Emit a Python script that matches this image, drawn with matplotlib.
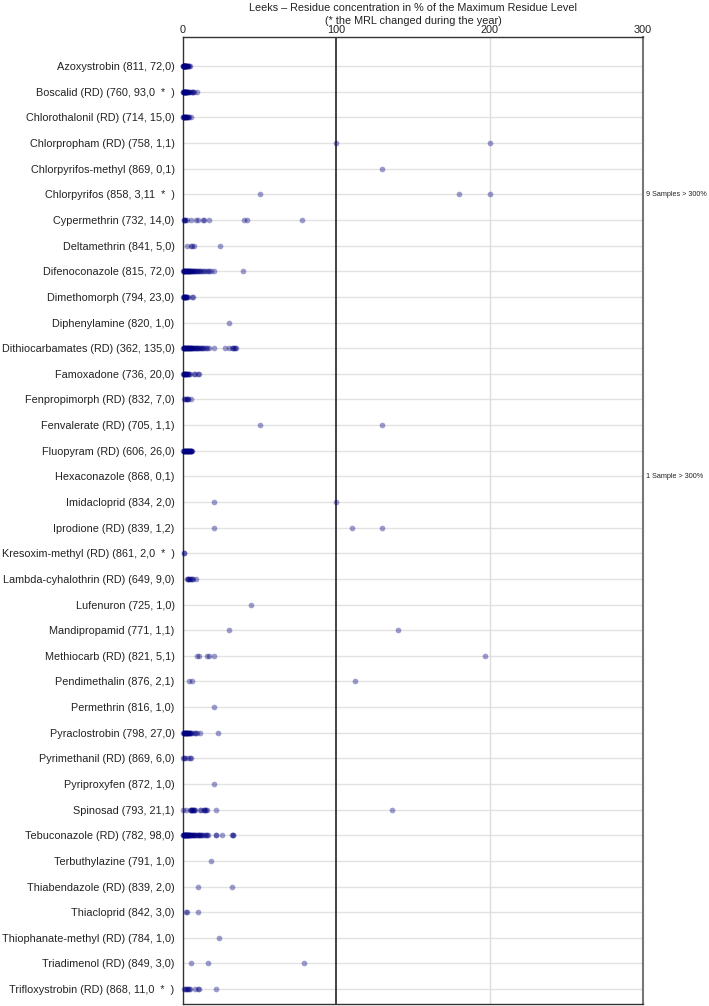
import matplotlib
matplotlib.use("Agg")
import matplotlib.pyplot as plt
import matplotlib.transforms as mtransforms

plt.rcParams['font.family'] = ['Liberation Sans', 'DejaVu Sans']

labels = [
    "Azoxystrobin (811, 72,0)",
    "Boscalid (RD) (760, 93,0  *  )",
    "Chlorothalonil (RD) (714, 15,0)",
    "Chlorpropham (RD) (758, 1,1)",
    "Chlorpyrifos-methyl (869, 0,1)",
    "Chlorpyrifos (858, 3,11  *  )",
    "Cypermethrin (732, 14,0)",
    "Deltamethrin (841, 5,0)",
    "Difenoconazole (815, 72,0)",
    "Dimethomorph (794, 23,0)",
    "Diphenylamine (820, 1,0)",
    "Dithiocarbamates (RD) (362, 135,0)",
    "Famoxadone (736, 20,0)",
    "Fenpropimorph (RD) (832, 7,0)",
    "Fenvalerate (RD) (705, 1,1)",
    "Fluopyram (RD) (606, 26,0)",
    "Hexaconazole (868, 0,1)",
    "Imidacloprid (834, 2,0)",
    "Iprodione (RD) (839, 1,2)",
    "Kresoxim-methyl (RD) (861, 2,0  *  )",
    "Lambda-cyhalothrin (RD) (649, 9,0)",
    "Lufenuron (725, 1,0)",
    "Mandipropamid (771, 1,1)",
    "Methiocarb (RD) (821, 5,1)",
    "Pendimethalin (876, 2,1)",
    "Permethrin (816, 1,0)",
    "Pyraclostrobin (798, 27,0)",
    "Pyrimethanil (RD) (869, 6,0)",
    "Pyriproxyfen (872, 1,0)",
    "Spinosad (793, 21,1)",
    "Tebuconazole (RD) (782, 98,0)",
    "Terbuthylazine (791, 1,0)",
    "Thiabendazole (RD) (839, 2,0)",
    "Thiacloprid (842, 3,0)",
    "Thiophanate-methyl (RD) (784, 1,0)",
    "Triadimenol (RD) (849, 3,0)",
    "Trifloxystrobin (RD) (868, 11,0  *  )",
]

# residue values in % of MRL
azoxystrobin = [0.1, 0.3, 0.4, 0.6, 0.7, 0.9, 1.0, 1.2, 1.3, 1.5, 1.6, 1.8, 2.0, 2.2,
                0.2, 0.5, 0.8, 1.1, 1.4, 1.7, 2.4, 2.6, 3.0, 3.4, 3.8, 4.3]
boscalid = [0.1, 0.3, 0.5, 0.7, 0.9, 1.1, 1.3, 1.5, 1.8, 2.0, 2.3, 2.6, 2.9, 3.2, 3.5,
            3.9, 4.3, 0.4, 0.8, 1.2, 1.6, 2.2, 5.6, 6.0, 6.5, 7.1, 9.0]
chlorothalonil = [0.2, 0.5, 0.8, 1.1, 1.4, 1.7, 2.0, 2.3, 0.3, 0.9, 1.5, 2.6, 3.0, 3.5, 4.2, 5.3]
chlorpropham = [100, 200]
chlorpyrifos_methyl = [130]
chlorpyrifos = [50.2, 180, 200]
cypermethrin = [0.5, 1.0, 1.2, 1.5, 2.4, 5.0, 8.3, 9.6, 13.0, 13.6, 16.7, 39.7, 41.9, 77.6]
deltamethrin = [2.4, 5.0, 5.8, 7.2, 23.9]
difenoconazole = [0.1, 0.4, 0.7, 1.0, 1.3, 1.6, 1.9, 2.2, 2.5, 2.8, 3.1, 3.4, 3.7, 4.0, 4.4,
                  4.8, 5.2, 5.6, 6.0, 6.5, 7.0, 7.5, 8.0, 8.6, 9.2, 9.8, 10.5, 11.2, 12.0,
                  0.5, 1.5, 2.5, 3.5, 4.5, 13.0, 14.0, 15.2, 16.5, 17.2, 18.3, 20.0, 39.3]
dimethomorph = [0.2, 0.5, 0.8, 1.1, 1.4, 1.7, 2.0, 2.3, 2.7, 3.1, 0.4, 1.0, 1.6, 5.6, 6.8]
diphenylamine = [30.3]
dithiocarbamates = [0.1, 0.4, 0.7, 1.0, 1.3, 1.6, 1.9, 2.2, 2.5, 2.8, 3.1, 3.4, 3.7, 4.0,
                    4.3, 4.6, 5.0, 5.4, 5.8, 6.2, 6.6, 7.0, 7.5, 8.0, 8.5, 9.0, 9.5, 10.0,
                    10.6, 11.2, 11.8, 12.5, 13.2, 14.0, 14.8, 15.6, 0.5, 1.5, 2.5, 3.5, 4.5,
                    17.3, 20.0, 27.6, 29.8, 31.8, 32.6, 33.2, 33.8, 34.4]
famoxadone = [0.2, 0.5, 0.8, 1.1, 1.4, 1.7, 2.0, 2.3, 2.6, 3.0, 3.5, 4.0, 4.6, 0.4, 1.0,
              7.2, 7.6, 10.0, 10.3]
fenpropimorph = [0.6, 1.2, 1.8, 2.4, 3.0, 3.6, 5.5]
fenvalerate = [50.2, 130]
fluopyram = [0.2, 0.5, 0.8, 1.1, 1.4, 1.7, 2.0, 2.3, 2.6, 2.9, 3.2, 3.5, 3.8, 4.1, 4.4,
             4.7, 5.0, 5.3, 5.6, 0.6, 1.5, 2.5, 3.4, 4.2, 5.1, 5.4]
hexaconazole = []
imidacloprid = [20.2, 100]
iprodione = [20.2, 110, 130]
kresoxim_methyl = [0.5, 0.8]
lambda_cyhalothrin = [2.5, 3.0, 3.5, 4.0, 4.5, 5.0, 5.6, 6.4, 8.5]
lufenuron = [44.3]
mandipropamid = [30.3, 140]
methiocarb = [9.4, 10.7, 16.0, 16.7, 20.4, 197]
pendimethalin = [3.9, 6.1, 112]
permethrin = [20.2]
pyraclostrobin = [0.2, 0.5, 0.8, 1.1, 1.4, 1.7, 2.0, 2.3, 2.6, 2.9, 3.2, 3.5, 3.8, 4.1,
                  4.4, 4.8, 5.2, 5.6, 0.6, 1.6, 2.7, 7.6, 8.2, 9.0, 11.2, 23.0]
pyrimethanil = [0.3, 0.8, 1.3, 3.6, 4.5, 5.0]
pyriproxyfen = [20.0]
spinosad = [0.2, 1.8, 4.6, 5.0, 5.4, 5.8, 6.2, 6.6, 7.0, 7.4, 7.9, 11.0, 11.6, 13.5,
            14.0, 14.2, 15.0, 15.6, 21.7, 136]
tebuconazole = [0.1, 0.3, 0.5, 0.7, 0.9, 1.1, 1.3, 1.5, 1.7, 1.9, 2.1, 2.4, 2.7, 3.0,
                3.3, 3.6, 3.9, 4.2, 4.5, 4.9, 5.3, 5.7, 6.1, 6.5, 7.0, 7.5, 8.0, 8.5, 9.0,
                9.6, 10.2, 10.8, 11.4, 12.0, 12.7, 13.4, 14.2, 15.0, 15.8, 16.6, 0.4, 1.2,
                2.0, 2.8, 3.6, 4.4, 21.3, 21.8, 25.4, 32.0, 32.4, 32.8]
terbuthylazine = [18.2]
thiabendazole = [10.1, 32.2]
thiacloprid = [2.2, 2.6, 10.1]
thiophanate_methyl = [23.2]
triadimenol = [5.3, 16.2, 78.7]
trifloxystrobin = [0.9, 1.5, 2.0, 2.5, 3.0, 4.0, 4.6, 7.9, 9.6, 10.8, 21.7]

values = [azoxystrobin, boscalid, chlorothalonil, chlorpropham, chlorpyrifos_methyl,
          chlorpyrifos, cypermethrin, deltamethrin, difenoconazole, dimethomorph,
          diphenylamine, dithiocarbamates, famoxadone, fenpropimorph, fenvalerate,
          fluopyram, hexaconazole, imidacloprid, iprodione, kresoxim_methyl,
          lambda_cyhalothrin, lufenuron, mandipropamid, methiocarb, pendimethalin,
          permethrin, pyraclostrobin, pyrimethanil, pyriproxyfen, spinosad, tebuconazole,
          terbuthylazine, thiabendazole, thiacloprid, thiophanate_methyl, triadimenol,
          trifloxystrobin]

# samples beyond the axis
over_rows = [5, 16]
over_text = ["9 Samples > 300%", "1 Sample > 300%"]

fig = plt.figure(figsize=(7.09, 10.06), dpi=100)
ax = fig.add_axes([0.258, 0.002, 0.649, 0.961])

for i, v in enumerate(values):
    ax.scatter(v, [i] * len(v), s=17, color='#000080', alpha=0.38, linewidths=0,
               zorder=3, clip_on=False)

n = len(labels)
ax.set_ylim(n - 1 + 0.58, -1.13)
ax.set_xlim(0, 300)
ax.set_yticks(range(n))
ax.set_yticklabels(labels, fontsize=7.85, color='#222222')
ax.set_xticks([0, 100, 200, 300])
ax.xaxis.tick_top()
ax.tick_params(axis='both', length=0)
ax.tick_params(axis='y', pad=6)
ax.tick_params(axis='x', pad=1.5, labelsize=7.8, labelcolor='#222222')

for i in range(n):
    ax.axhline(i, color='#e2e2e2', lw=1, zorder=1)
ax.axvline(200, color='#dddddd', lw=1, zorder=1)
ax.axvline(100, color='#222222', lw=1.2, zorder=2)

for s in ['left', 'top', 'bottom']:
    ax.spines[s].set_color('#333333')
    ax.spines[s].set_linewidth(1)
ax.spines['right'].set_color('#777777')
ax.spines['right'].set_linewidth(1.5)

trans = mtransforms.blended_transform_factory(ax.transAxes, ax.transData)
for r, t in zip(over_rows, over_text):
    ax.text(1.006, r, t, transform=trans, fontsize=5.2, va='center', ha='left',
            color='#222222')

cx = 0.258 + 0.649 / 2
fig.text(cx, 0.992, "Leeks \u2013 Residue concentration in % of the Maximum Residue Level",
         ha='center', va='center', fontsize=7.8, color='#222222')
fig.text(cx, 0.979, "(* the MRL changed during the year)",
         ha='center', va='center', fontsize=7.8, color='#222222')

fig.savefig("out.png", dpi=100)
